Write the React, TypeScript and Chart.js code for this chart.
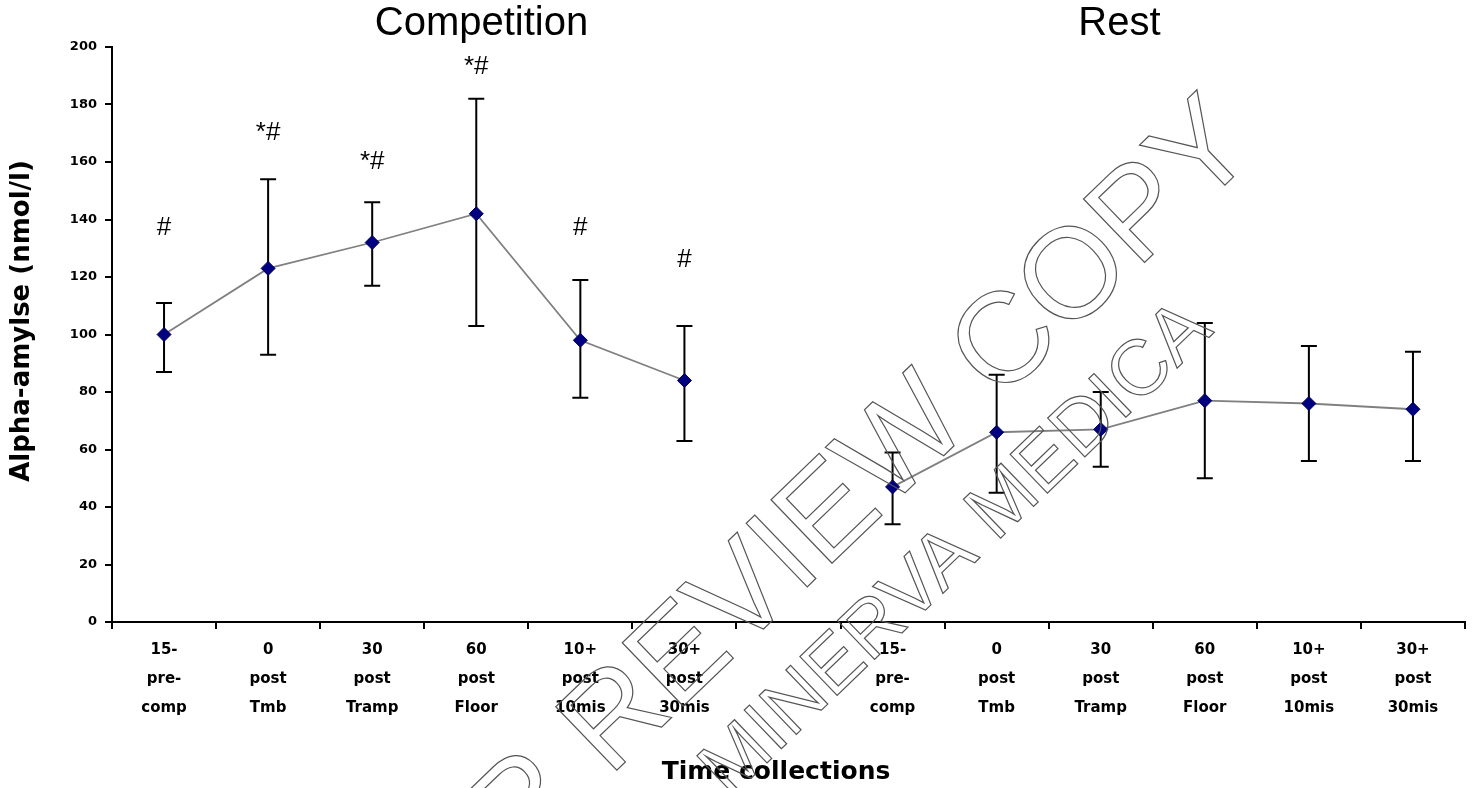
import React, { useEffect, useRef } from "react";
import { Chart, registerables } from "chart.js";

Chart.register(...registerables);

const categories: string[][] = [
  ["15-", "pre-", "comp"],
  ["0", "post", "Tmb"],
  ["30", "post", "Tramp"],
  ["60", "post", "Floor"],
  ["10+", "post", "10mis"],
  ["30+", "post", "30mis"],
  [""],
  ["15-", "pre-", "comp"],
  ["0", "post", "Tmb"],
  ["30", "post", "Tramp"],
  ["60", "post", "Floor"],
  ["10+", "post", "10mis"],
  ["30+", "post", "30mis"],
];

const means: (number | null)[] = [100, 123, 132, 142, 98, 84, null, 47, 66, 67, 77, 76, 74];
const errHigh: (number | null)[] = [111, 154, 146, 182, 119, 103, null, 59, 86, 80, 104, 96, 94];
const errLow: (number | null)[] = [87, 93, 117, 103, 78, 63, null, 34, 45, 54, 50, 56, 56];
const markText: string[] = ["#", "*#", "*#", "*#", "#", "#", "", "", "", "", "", "", ""];
const markValue: (number | null)[] = [137, 170, 160, 193, 137, 126, null, null, null, null, null, null, null];
const groupTitles: string[] = ["Competition", "Rest"];
const groupTitleIndex: number[] = [3.05, 9.18];
const yTitle = "Alpha-amylse (nmol/l)";
const xTitle = "Time collections";
const watermarkMain = "FOR REVIEW COPY";
const watermarkSub = "MINERVA MEDICA";
const yTicksStep = 20;

const errorBarPlugin = {
  id: "errorBars",
  beforeDatasetsDraw(chart: any) {
    const { ctx, scales } = chart;
    const x = scales.x;
    const y = scales.y;
    ctx.save();
    ctx.strokeStyle = "#000";
    ctx.lineWidth = 2;
    for (let i = 0; i < means.length; i++) {
      const hi = errHigh[i];
      const lo = errLow[i];
      if (hi == null || lo == null) continue;
      const px = x.getPixelForValue(i);
      const yh = y.getPixelForValue(hi);
      const yl = y.getPixelForValue(lo);
      ctx.beginPath();
      ctx.moveTo(px, yh);
      ctx.lineTo(px, yl);
      ctx.moveTo(px - 8, yh);
      ctx.lineTo(px + 8, yh);
      ctx.moveTo(px - 8, yl);
      ctx.lineTo(px + 8, yl);
      ctx.stroke();
    }
    ctx.restore();
  },
};

const textPlugin = {
  id: "texts",
  afterDraw(chart: any) {
    const { ctx, scales } = chart;
    const x = scales.x;
    const y = scales.y;
    ctx.save();
    ctx.fillStyle = "#000";
    ctx.textAlign = "center";
    ctx.textBaseline = "middle";
    ctx.font = "26px 'Liberation Sans', sans-serif";
    for (let i = 0; i < markText.length; i++) {
      const v = markValue[i];
      if (!markText[i] || v == null) continue;
      ctx.fillText(markText[i], x.getPixelForValue(i), y.getPixelForValue(v));
    }
    ctx.font = "40px 'Liberation Sans', sans-serif";
    for (let g = 0; g < groupTitles.length; g++) {
      ctx.fillText(groupTitles[g], x.getPixelForValue(groupTitleIndex[g]), 24);
    }
    // axis titles
    ctx.font = "bold 25px 'DejaVu Sans', sans-serif";
    ctx.fillText(xTitle, 776, 772);
    ctx.save();
    ctx.translate(22, 321);
    ctx.rotate(-Math.PI / 2);
    ctx.font = "bold 26px 'DejaVu Sans', sans-serif";
    ctx.fillText(yTitle, 0, 0);
    ctx.restore();
    // watermark
    ctx.strokeStyle = "#555";
    ctx.lineWidth = 1.2;
    ctx.save();
    ctx.translate(800, 545);
    ctx.rotate(-Math.PI / 4.1);
    ctx.font = "128px 'Liberation Sans', sans-serif";
    ctx.strokeText(watermarkMain, 0, 0);
    ctx.restore();
    ctx.save();
    ctx.translate(957, 550);
    ctx.rotate(-Math.PI / 4.1);
    ctx.font = "78px 'Liberation Sans', sans-serif";
    ctx.strokeText(watermarkSub, 0, 0);
    ctx.restore();
    ctx.restore();
  },
};

export default function App() {
  const ref = useRef<HTMLCanvasElement | null>(null);
  useEffect(() => {
    document.body.style.margin = "0";
    const canvas = ref.current;
    if (!canvas) return;
    const tickFont = { family: "'DejaVu Sans', sans-serif", weight: "bold" as const };
    const chart = new Chart(canvas, {
      type: "line",
      data: {
        labels: categories,
        datasets: [
          {
            data: means,
            borderColor: "#808080",
            borderWidth: 1.8,
            pointStyle: "rectRot",
            pointRadius: 7,
            pointBackgroundColor: "#000080",
            pointBorderColor: "#000050",
            pointBorderWidth: 1,
            spanGaps: false,
            tension: 0,
          },
        ],
      },
      options: {
        animation: false,
        responsive: false,
        layout: { padding: { top: 47, right: 0, left: 0, bottom: 0 } },
        plugins: { legend: { display: false }, tooltip: { enabled: false } },
        scales: {
          x: {
            type: "category",
            offset: true,
            grid: {
              display: true,
              drawOnChartArea: false,
              drawTicks: true,
              tickLength: 7,
              offset: true,
              color: "#000",
              lineWidth: 2,
            },
            border: { display: true, color: "#000", width: 2 },
            ticks: {
              color: "#000",
              autoSkip: false,
              maxRotation: 0,
              padding: 6,
              font: { ...tickFont, size: 15, lineHeight: 1.95 },
            },
            afterFit(scale: any) {
              scale.height = 166;
            },
          },
          y: {
            min: 0,
            max: 200,
            ticks: {
              stepSize: yTicksStep,
              color: "#000",
              padding: 8,
              font: { ...tickFont, size: 13 },
            },
            grid: {
              display: true,
              drawOnChartArea: false,
              drawTicks: true,
              tickLength: 7,
              color: "#000",
              lineWidth: 2,
            },
            border: { display: true, color: "#000", width: 2 },
            afterFit(scale: any) {
              scale.width = 112;
            },
          },
        },
      },
      plugins: [errorBarPlugin, textPlugin],
    });
    return () => chart.destroy();
  }, []);
  return (
    <div style={{ position: "relative", width: 1473, height: 788, background: "#fff" }}>
      <canvas ref={ref} width={1473} height={788} style={{ display: "block" }} />
    </div>
  );
}
